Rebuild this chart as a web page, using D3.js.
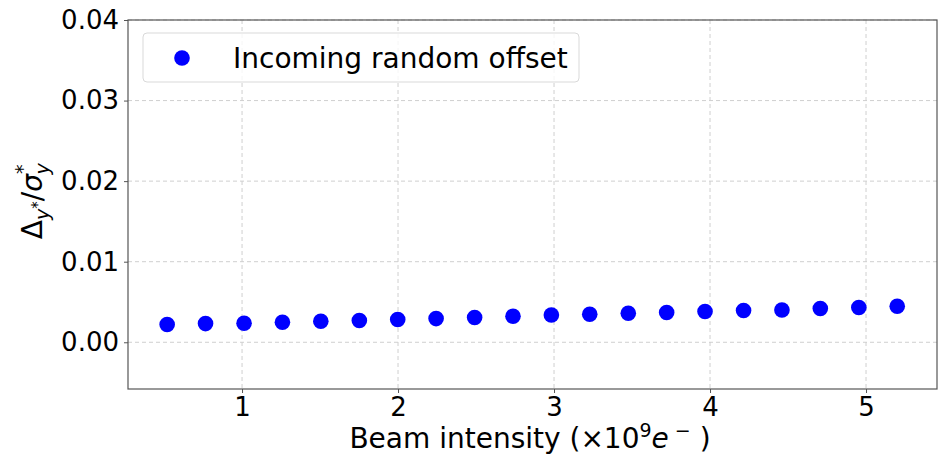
<!DOCTYPE html>
<html>
<head>
<meta charset="utf-8">
<script src="https://cdn.jsdelivr.net/npm/d3@7"></script>
<style>
  body { margin: 0; background: #fff; }
  svg { font-family: "DejaVu Sans", sans-serif; }
</style>
</head>
<body>
<svg id="chart" width="943" height="457"></svg>
<script>
// Beam intensity (x 1e9 e-)
const intensity = [0.52, 0.766, 1.013, 1.259, 1.505, 1.752, 1.998, 2.244, 2.491, 2.737,
  2.983, 3.229, 3.476, 3.722, 3.968, 4.215, 4.461, 4.707, 4.954, 5.2];
// Incoming random offset
const offset = [0.00220, 0.00232, 0.00236, 0.00248, 0.00261, 0.00270, 0.00282, 0.00294, 0.00307, 0.00323,
  0.00339, 0.00348, 0.00360, 0.00369, 0.00381, 0.00394, 0.00401, 0.00419, 0.00431, 0.00447];
const xTicks = [1, 2, 3, 4, 5];
const yTicks = [0, 0.01, 0.02, 0.03, 0.04];
const seriesName = 'Incoming random offset';

const margin = { top: 20, right: 6, bottom: 68, left: 128 };
const svg = d3.select('#chart');
const width = 943 - margin.left - margin.right;
const height = 457 - margin.top - margin.bottom;

const g = svg.append('g').attr('transform', `translate(${margin.left}, ${margin.top})`);

const x = d3.scaleLinear().domain([0.269, 5.455]).range([0, width]);
const y = d3.scaleLinear().domain([-0.0058, 0.04]).range([height, 0]);

// grid
g.selectAll('line.gx')
  .data(xTicks)
  .enter()
  .append('line')
  .attr('x1', (d) => x(d)).attr('x2', (d) => x(d))
  .attr('y1', 0).attr('y2', height)
  .attr('stroke', '#cfcfcf').attr('stroke-width', 1).attr('stroke-dasharray', '4 3');

g.selectAll('line.gy')
  .data(yTicks)
  .enter()
  .append('line')
  .attr('x1', 0).attr('x2', width)
  .attr('y1', (d) => y(d)).attr('y2', (d) => y(d))
  .attr('stroke', '#cfcfcf').attr('stroke-width', 1).attr('stroke-dasharray', '4 3');

// axes
const xAxis = g.append('g')
  .attr('transform', `translate(0, ${height})`)
  .call(d3.axisBottom(x).tickValues(xTicks).tickFormat(d3.format('d')).tickSizeOuter(0).tickSize(4).tickPadding(5));

const yAxis = g.append('g')
  .call(d3.axisLeft(y).tickValues(yTicks).tickFormat(d3.format('.2f')).tickSizeOuter(0).tickSize(4).tickPadding(5));

[xAxis, yAxis].forEach((a) => {
  a.select('.domain').remove();
  a.selectAll('line').attr('stroke', '#555');
  a.selectAll('text').attr('fill', '#000').style('font-size', '26px').style('font-family', '"DejaVu Sans", sans-serif');
});

// frame
g.append('rect')
  .attr('x', 0).attr('y', 0).attr('width', width).attr('height', height)
  .attr('fill', 'none').attr('stroke', '#555').attr('stroke-width', 1.2);

// points
g.selectAll('circle.pt')
  .data(intensity)
  .enter()
  .append('circle')
  .attr('class', 'pt')
  .attr('cx', (d) => x(d))
  .attr('cy', (d, i) => y(offset[i]))
  .attr('r', 7.8)
  .attr('fill', '#0000ff');

// legend
const lg = g.append('g').attr('transform', 'translate(15, 13)');
lg.append('rect')
  .attr('width', 436).attr('height', 49).attr('rx', 4)
  .attr('fill', 'rgba(255,255,255,0.8)').attr('stroke', '#d9d9d9');
lg.append('circle').attr('cx', 39).attr('cy', 25).attr('r', 7.8).attr('fill', '#0000ff');
lg.append('text')
  .attr('x', 90).attr('y', 35)
  .style('font-size', '28px')
  .text(seriesName);

// x label
const xl = svg.append('text')
  .attr('x', 530)
  .attr('y', 448)
  .attr('text-anchor', 'middle')
  .style('font-size', '28px');
xl.append('tspan').text('Beam intensity (×10');
xl.append('tspan').attr('dy', -11).style('font-size', '19px').text('9');
xl.append('tspan').attr('dy', 11).style('font-style', 'italic').text('e');
xl.append('tspan').attr('dy', -11).style('font-size', '19px').text(' −');
xl.append('tspan').attr('dy', 11).text(' )');

// y label
const yl = svg.append('text')
  .attr('transform', `translate(42, ${margin.top + y(0.0175)}) rotate(-90)`)
  .attr('text-anchor', 'middle')
  .style('font-size', '28px');
yl.append('tspan').text('Δ');
yl.append('tspan').attr('dy', 7).style('font-size', '19px').style('font-style', 'italic').text('y');
yl.append('tspan').attr('dy', -6).style('font-size', '15px').text('*');
yl.append('tspan').attr('dy', -1).text('/');
yl.append('tspan').style('font-style', 'italic').text('σ');
yl.append('tspan').attr('dy', -13).style('font-size', '19px').text('*');
yl.append('tspan').attr('dx', -10).attr('dy', 20).style('font-size', '19px').style('font-style', 'italic').text('y');
</script>
</body>
</html>
